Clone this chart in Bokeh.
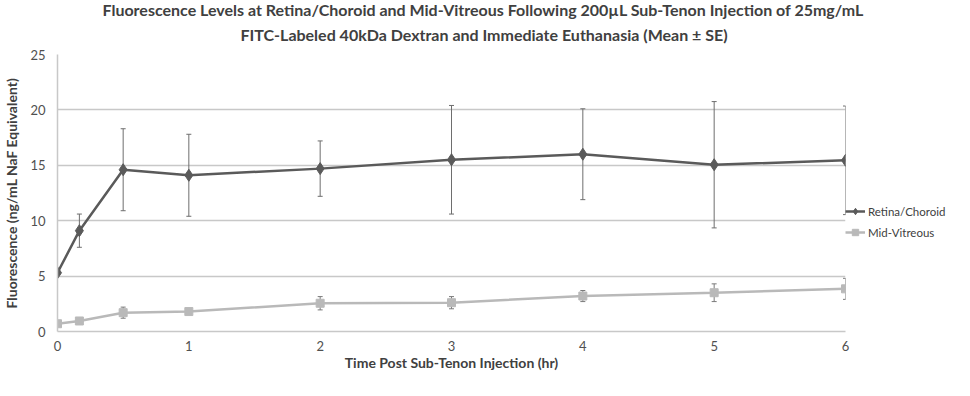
from bokeh.plotting import figure
from bokeh.models import (ColumnDataSource, Whisker, TeeHead, Legend, LegendItem,
                          Title, FixedTicker, Range1d)
from bokeh.embed import file_html
from bokeh.resources import INLINE

# ---- data ----
time_hr = [0, 1/6, 0.5, 1, 2, 3, 4, 5, 6]
retina_mean = [5.3, 9.1, 14.6, 14.1, 14.7, 15.5, 16.0, 15.05, 15.45]
retina_se = [0.15, 1.5, 3.7, 3.7, 2.5, 4.9, 4.1, 5.7, 4.9]
vitreous_mean = [0.7, 0.95, 1.7, 1.8, 2.55, 2.6, 3.2, 3.5, 3.85]
vitreous_se = [0.1, 0.1, 0.5, 0.1, 0.6, 0.55, 0.5, 0.8, 0.95]
series_names = ["Retina/Choroid", "Mid-Vitreous"]
x_ticks = [0, 1, 2, 3, 4, 5, 6]
y_ticks = [0, 5, 10, 15, 20, 25]
title_line1 = "Fluorescence Levels  at Retina/Choroid and Mid-Vitreous Following 200\u00b5L Sub-Tenon Injection of 25mg/mL"
title_line2 = "FITC-Labeled 40kDa Dextran  and Immediate Euthanasia (Mean \u00b1 SE)"
x_label = "Time Post Sub-Tenon Injection (hr)"
y_label = "Fluorescence (ng/mL NaF Equivalent)"

FONT = "Lato"

p = figure(frame_width=788, frame_height=277, output_backend="svg", toolbar_location=None,
           x_range=Range1d(0, 6), y_range=Range1d(0, 25),
           min_border_left=53, min_border_right=113, min_border_top=54, min_border_bottom=0)
p.outline_line_color = None
p.background_fill_color = "white"
p.border_fill_color = "white"

# grid
p.xgrid.grid_line_color = None
p.ygrid.grid_line_color = "#c8c8c8"
p.ygrid.grid_line_width = 1.5
p.ygrid.ticker = FixedTicker(ticks=y_ticks)

# axes
p.xaxis.ticker = FixedTicker(ticks=x_ticks)
p.yaxis.ticker = FixedTicker(ticks=y_ticks)
for ax in (p.xaxis[0], p.yaxis[0]):
    ax.major_tick_line_color = None
    ax.minor_tick_line_color = None
    ax.major_tick_out = 0
    ax.major_tick_in = 0
    ax.minor_tick_out = 0
    ax.axis_line_color = "#c8c8c8"
    ax.axis_line_width = 1.5
    ax.major_label_text_font = FONT
    ax.major_label_text_font_size = "13px"
    ax.major_label_text_color = "#505050"
    ax.axis_label_text_font = FONT
    ax.axis_label_text_font_style = "bold"
    ax.axis_label_text_font_size = "14px"
    ax.axis_label_text_color = "#404040"
p.xaxis.axis_label = x_label
p.yaxis.axis_label = y_label
p.xaxis.major_label_standoff = 9
p.xaxis.axis_label_standoff = 0
p.yaxis.major_label_standoff = 12
p.yaxis.axis_label_standoff = 7

# sources
r_src = ColumnDataSource(dict(x=time_hr, y=retina_mean,
                              lo=[m - s for m, s in zip(retina_mean, retina_se)],
                              hi=[m + s for m, s in zip(retina_mean, retina_se)]))
v_src = ColumnDataSource(dict(x=time_hr, y=vitreous_mean,
                              lo=[m - s for m, s in zip(vitreous_mean, vitreous_se)],
                              hi=[m + s for m, s in zip(vitreous_mean, vitreous_se)]))

R_COL = "#5a5a5a"
V_COL = "#b9b9b9"

for src, ecol in ((r_src, "#6e6e6e"), (v_src, "#7a7a7a")):
    w = Whisker(source=src, base="x", lower="lo", upper="hi", line_color=ecol, line_width=1,
                upper_head=TeeHead(size=5, line_color=ecol, line_width=1),
                lower_head=TeeHead(size=5, line_color=ecol, line_width=1))
    p.add_layout(w)

rl = p.line("x", "y", source=r_src, line_color=R_COL, line_width=2.5)
rm = p.scatter("x", "y", source=r_src, marker="diamond", size=12, fill_color=R_COL, line_color=R_COL)
vl = p.line("x", "y", source=v_src, line_color=V_COL, line_width=2.5)
vm = p.scatter("x", "y", source=v_src, marker="square", size=8, fill_color=V_COL, line_color=V_COL)

legend = Legend(items=[LegendItem(label=series_names[0], renderers=[rl, rm]),
                       LegendItem(label=series_names[1], renderers=[vl, vm])],
                location=(0, 91), orientation="vertical",
                border_line_color=None, background_fill_alpha=0,
                label_text_font=FONT, label_text_font_size="11.5px", label_text_color="#404040",
                glyph_width=20, glyph_height=16, label_standoff=3, spacing=5, padding=1, margin=0)
p.add_layout(legend, "right")

# title: two centred lines
t2 = Title(text=title_line2, align="left", offset=183, vertical_align="top", standoff=16.6,
           text_font=FONT, text_font_style="bold", text_font_size="16px", text_color="#404040")
t1 = Title(text=title_line1, align="left", offset=45, vertical_align="top", standoff=-10.4,
           text_font=FONT, text_font_style="bold", text_font_size="16px", text_color="#404040")
p.add_layout(t2, "above")
p.add_layout(t1, "above")

open("out.html", "w").write(file_html(p, INLINE))
